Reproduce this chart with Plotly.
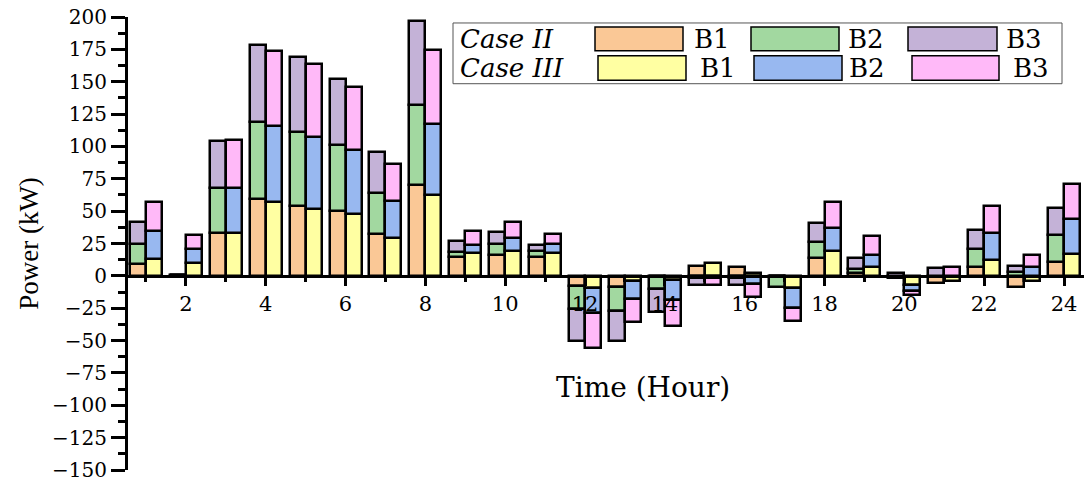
import plotly.graph_objects as go

# Hourly battery power (kW) for two operating cases, three batteries each
hours = list(range(1, 25))

case2_b1 = [9, 0.5, 33, 59, 54, 50, 32, 70, 14.5, 16.5, 14.5, -7.5, -8.5, 0, 7.5, 7, 0, 13.5, 2, -2, -5.5, 6.5, -8.5, 11]
case2_b2 = [16, 0, 35, 60, 57, 51, 32, 62, 4, 8, 5, -18, -19, -10, -2, -1.5, -8.5, 12.5, 3, 0, 0, 14, 3, 20.5]
case2_b3 = [17, 0, 36, 59, 58, 51, 32, 65, 8.5, 9.5, 4.7, -24.5, -22.5, -18, -5, -5.5, 0, 14.5, 9, 2, 6, 15, 5, 21]

case3_b1 = [13, 10, 33, 57, 51.5, 47.5, 29, 62.5, 17.5, 19, 17.5, -9.5, -4, -3, 10, 2, -9, 19, 6.5, -7, -4, 12.5, -4, 17]
case3_b2 = [22, 10.5, 35, 58.5, 55.5, 49.5, 28.5, 54.5, 6, 10.5, 7.5, -19.5, -14, -16, -1.5, -6.5, -16, 18, 9.5, -4.5, 0, 20.5, 6.5, 27]
case3_b3 = [22, 11, 37, 58, 56.5, 49, 29, 57.5, 11.5, 12, 7, -27, -18, -19.5, -5.5, -10, -10, 20, 15, -3.5, 7, 21, 10, 27]

case_labels = ["Case II", "Case III"]
battery_labels = ["B1", "B2", "B3"]

colors_case2 = ["#FAC896", "#A2D8A0", "#C4B2D7"]
colors_case3 = ["#FFFFA2", "#98B8F0", "#FFB9F8"]

BAR_W = 0.4
FONT = "DejaVu Serif"

fig = go.Figure()

for vals, col, lab in zip([case2_b1, case2_b2, case2_b3], colors_case2, battery_labels):
    fig.add_trace(go.Bar(
        x=[h - BAR_W / 2 for h in hours], y=vals, width=BAR_W,
        name=f"{case_labels[0]} {lab}", showlegend=False,
        marker=dict(color=col, line=dict(color="black", width=2.5)),
    ))

for vals, col, lab in zip([case3_b1, case3_b2, case3_b3], colors_case3, battery_labels):
    fig.add_trace(go.Bar(
        x=[h + BAR_W / 2 for h in hours], y=vals, width=BAR_W,
        name=f"{case_labels[1]} {lab}", showlegend=False,
        marker=dict(color=col, line=dict(color="black", width=2.5)),
    ))

W, H = 1086, 484
ML, MR, MT, MB = 126, 2, 17, 12
PW, PH = W - ML - MR, H - MT - MB
Y_MIN, Y_MAX = -150, 200


def px(x):
    return (x - ML) / PW


def py(y):
    return (H - MB - y) / PH


# Hand-built two-row legend box
shapes = [dict(type="rect", xref="paper", yref="paper",
               x0=px(453), x1=px(1062), y0=py(84), y1=py(23),
               line=dict(color="#555555", width=1), fillcolor="white", layer="above")]
annotations = []

rows = [
    dict(case=case_labels[0], cols=colors_case2, ty=39, sy=(27, 51),
         sw=[(595, 683), (751, 839), (908, 997)], tx=[692, 846, 1004]),
    dict(case=case_labels[1], cols=colors_case3, ty=68, sy=(56, 80.5),
         sw=[(598, 686), (754, 842), (912, 999)], tx=[698, 847, 1011]),
]
for r in rows:
    annotations.append(dict(
        xref="paper", yref="paper", x=px(458), y=py(r["ty"]),
        xanchor="left", yanchor="middle", showarrow=False,
        text=f"<i>{r['case']}</i>", font=dict(family=FONT, size=26, color="black")))
    for (x0, x1), col, tx, lab in zip(r["sw"], r["cols"], r["tx"], battery_labels):
        shapes.append(dict(type="rect", xref="paper", yref="paper",
                           x0=px(x0), x1=px(x1), y0=py(r["sy"][1]), y1=py(r["sy"][0]),
                           line=dict(color="black", width=1.5), fillcolor=col, layer="above"))
        annotations.append(dict(
            xref="paper", yref="paper", x=px(tx), y=py(r["ty"]),
            xanchor="left", yanchor="middle", showarrow=False,
            text=lab, font=dict(family=FONT, size=26, color="black")))

# x-axis title
annotations.append(dict(
    xref="paper", yref="paper", x=px(643), y=py(389),
    xanchor="center", yanchor="middle", showarrow=False,
    text="Time (Hour)", font=dict(family=FONT, size=28, color="black")))

fig.update_layout(
    width=W, height=H,
    margin=dict(l=ML, r=MR, t=MT, b=MB, pad=0),
    paper_bgcolor="white", plot_bgcolor="white",
    barmode="relative", bargap=0,
    shapes=shapes, annotations=annotations,
    xaxis=dict(
        range=[0.5, 24.5], anchor="free",
        position=(0 - Y_MIN) / (Y_MAX - Y_MIN),
        tickmode="linear", tick0=0, dtick=2,
        ticks="outside", ticklen=8, tickwidth=2.5, tickcolor="black",
        minor=dict(dtick=1, tick0=0, ticks="outside", ticklen=4, tickwidth=2.5, tickcolor="black"),
        showline=True, linecolor="black", linewidth=2.5,
        showgrid=False, zeroline=False,
        tickfont=dict(family=FONT, size=21, color="black"),
    ),
    yaxis=dict(
        range=[Y_MIN, Y_MAX], anchor="free", position=0,
        tickmode="linear", tick0=0, dtick=25,
        ticks="outside", ticklen=14, tickwidth=2.5, tickcolor="black",
        minor=dict(dtick=12.5, tick0=0, ticks="outside", ticklen=7, tickwidth=2.5, tickcolor="black"),
        showline=True, linecolor="black", linewidth=3,
        showgrid=False, zeroline=False,
        tickfont=dict(family=FONT, size=20, color="black"),
        title=dict(text="Power (kW)", font=dict(family="Liberation Serif", size=27, color="black"),
                   standoff=4),
    ),
)

fig.write_html("out.html")
